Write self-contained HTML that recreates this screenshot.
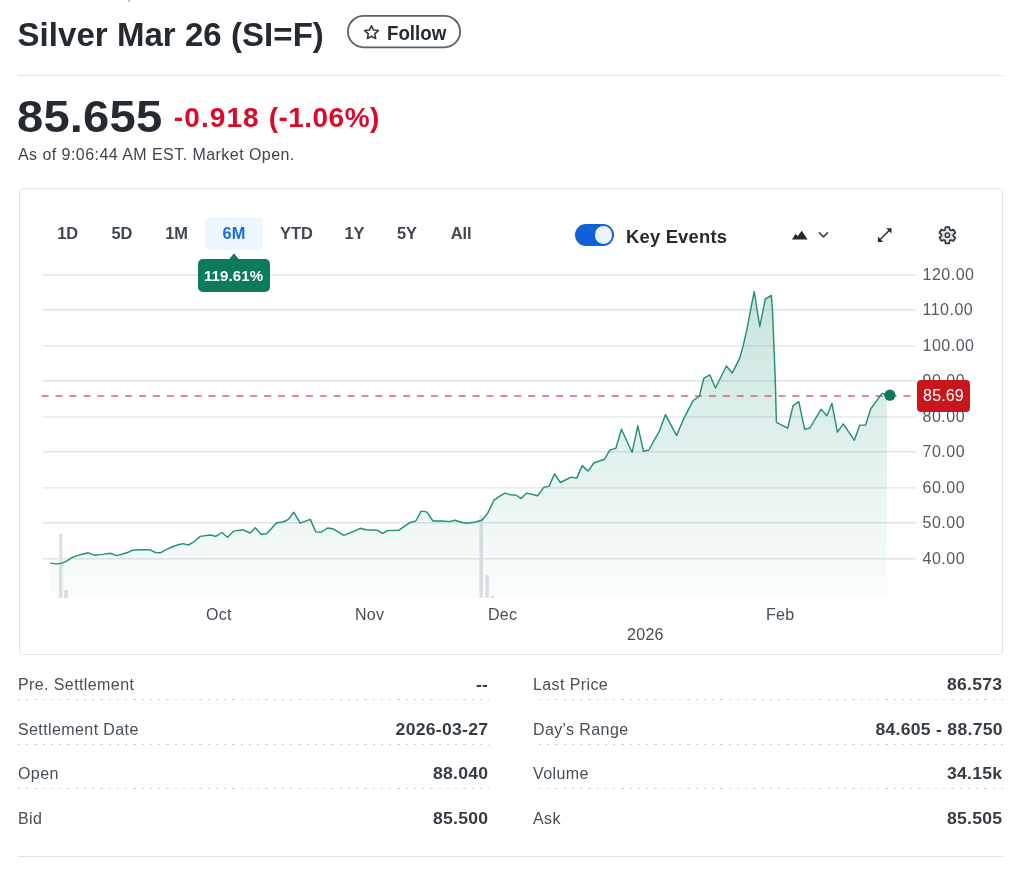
<!DOCTYPE html>
<html><head><meta charset="utf-8">
<style>
*{margin:0;padding:0;box-sizing:border-box}
html,body{width:1024px;height:870px;background:#fff;overflow:hidden}
body{position:relative;font-family:"Liberation Sans",sans-serif;color:#232a31}
.a{position:absolute;white-space:nowrap;line-height:1}
.b{font-weight:bold}
#title{left:17.5px;top:18px;font-size:33px;font-weight:bold;letter-spacing:0.05px}
#follow{left:347px;top:15px;width:114px;height:33px}
#follow span{position:absolute;left:40px;top:8.6px;font-size:19.5px;font-weight:bold;color:#232a31;letter-spacing:0px;transform:scaleX(0.96);transform-origin:0 0}
#hr1{left:18px;top:75px;width:985px;height:1px;background:#e0e4e9}
#price{left:17px;top:95px;font-size:44px;font-weight:bold;letter-spacing:0.2px;transform:scaleX(1.07);transform-origin:0 0}
.red{color:#dc0a28}
#chg{left:173.8px;top:103.5px;font-size:28px;font-weight:bold;letter-spacing:1.1px}
#pct{left:268.8px;top:103.5px;font-size:28px;font-weight:bold;letter-spacing:0.45px}
#asof{left:18px;top:146.8px;font-size:16px;color:#3e454c;letter-spacing:0.45px}
#card{left:18.5px;top:188px;width:984.3px;height:466.6px;border:1px solid #e0e3e7;border-radius:5px}
.rng{top:225px;width:60px;text-align:center;font-size:16.4px;font-weight:bold;color:#40474e;letter-spacing:0px}
#sel{left:205px;top:217px;width:58px;height:33px;background:#eef6ff;border-radius:5px}
#tip{left:198px;top:259px;width:72px;height:33px;background:#0b7a5d;border-radius:5px}
#tip span{position:absolute;left:6px;top:9px;font-size:15px;font-weight:bold;color:#fff;letter-spacing:0.1px}
#tog{left:575px;top:224px;width:39px;height:22px;background:#0f62d6;border-radius:11px}
#tog i{position:absolute;left:19.5px;top:2.3px;width:17.6px;height:17.6px;border-radius:50%;background:#eef2f7}
#ke{left:626px;top:228px;font-size:18.4px;font-weight:bold;letter-spacing:0.2px}
.yl{left:922.5px;font-size:16px;color:#525a62;letter-spacing:0.5px;margin-top:-1px}
.xl{font-size:16px;color:#464e56;letter-spacing:0.3px;margin-top:1px}
#redbox{left:917.1px;top:379.7px;width:52.5px;height:32.8px;background:#c8161d;border-radius:4px}
#redbox span{position:absolute;left:6px;top:8px;font-size:16px;color:#fff;letter-spacing:0.15px}
.lab{font-size:16px;color:#464e56;letter-spacing:0.4px;margin-top:-0.5px}
.val{font-size:16px;font-weight:bold;color:#353c43;letter-spacing:0.25px;margin-top:-0.5px;transform:scaleX(1.1);transform-origin:100% 0}
.dotr{height:1px;background:repeating-linear-gradient(to left,#ccd1d7 0 2.2px,transparent 2.2px 8.25px)}
.dot{height:1px;background:repeating-linear-gradient(to right,#ccd1d7 0 2.2px,transparent 2.2px 8.25px)}
#hr2{left:18px;top:856px;width:985px;height:1px;background:#e0e4e9}
svg{position:absolute;left:0;top:0}
#w{position:absolute;left:0;top:0;width:1024px;height:870px;will-change:transform}
</style></head>
<body><div id="w">
<div class="a" style="left:127.8px;top:-1px;width:2px;height:3px;border-radius:1px;background:#b5b9be"></div>
<div class="a" id="title">Silver Mar 26 (SI=F)</div>
<div class="a" id="follow"><svg width="114" height="34" style="left:0;top:0"><rect x="0.9" y="0.9" width="112.2" height="31.4" rx="15.7" fill="none" stroke="#5a6168" stroke-width="1.8"/></svg><svg width="17" height="17" viewBox="0 0 16 16" style="left:16px;top:8.8px"><path d="M8 1.6l1.9 4.1 4.5.5-3.3 3.1.9 4.4L8 11.5l-3.9 2.2.9-4.4L1.6 6.2l4.5-.5z" fill="none" stroke="#30373e" stroke-width="1.45" stroke-linejoin="round"/></svg><span>Follow</span></div>
<div class="a" id="hr1"></div>
<div class="a" id="price">85.655</div>
<div class="a red" id="chg">-0.918</div>
<div class="a red" id="pct">(-1.06%)</div>
<div class="a" id="asof">As of 9:06:44 AM EST. Market Open.</div>

<div class="a" id="card"></div>
<!-- CHART SVG -->
<svg id="chart" width="1024" height="870">
<defs><linearGradient id="gf" x1="0" y1="0" x2="0" y2="1" gradientUnits="objectBoundingBox">
<stop offset="0" stop-color="#2b9a80" stop-opacity="0.26"/>
<stop offset="1" stop-color="#2b9a80" stop-opacity="0.02"/></linearGradient></defs>
<g stroke="#e2e4e8" stroke-width="1.4"><line x1="43" y1="275.0" x2="916" y2="275.0"/><line x1="43" y1="309.8" x2="916" y2="309.8"/><line x1="43" y1="345.9" x2="916" y2="345.9"/><line x1="43" y1="380.8" x2="916" y2="380.8"/><line x1="43" y1="416.9" x2="916" y2="416.9"/><line x1="43" y1="451.8" x2="916" y2="451.8"/><line x1="43" y1="487.9" x2="916" y2="487.9"/><line x1="43" y1="522.8" x2="916" y2="522.8"/><line x1="43" y1="558.8" x2="916" y2="558.8"/></g>
<g fill="#dde0e4"><rect x="59" y="534" width="3.5" height="64"/><rect x="64.2" y="590" width="3.8" height="8"/><rect x="479.5" y="515" width="3.5" height="83"/><rect x="485.3" y="575" width="3.5" height="23"/><rect x="490.8" y="596" width="3.5" height="2"/></g>
<path d="M50.2 563.1 L57.2 563.9 L61.9 563.1 L66.6 561.1 L72.0 557.5 L77.5 555.6 L83.0 554.0 L88.4 552.8 L94.7 555.3 L102.5 554.4 L110.3 553.3 L116.6 555.6 L122.8 554.0 L127.5 552.5 L133.0 550.2 L140.0 549.7 L149.4 549.7 L155.6 552.5 L160.3 552.8 L166.6 549.4 L172.0 547.0 L177.5 545.0 L183.0 543.6 L188.4 545.0 L193.9 541.8 L200.2 536.4 L210.3 535.0 L215.8 536.4 L222.0 532.5 L227.5 537.2 L233.8 531.1 L243.1 529.8 L250.2 533.0 L255.3 527.8 L261.1 534.2 L266.6 533.8 L276.7 522.8 L283.0 522.0 L288.4 519.4 L293.9 512.3 L300.2 523.1 L310.3 519.4 L315.8 531.9 L321.2 532.2 L327.5 528.0 L333.0 528.8 L343.9 535.3 L352.5 531.9 L360.3 528.3 L365.8 529.8 L377.5 530.3 L382.5 533.4 L387.7 530.6 L398.6 530.3 L409.5 522.8 L415.8 521.0 L421.2 511.1 L426.7 511.9 L433.0 521.0 L442.3 521.0 L449.4 521.6 L454.8 520.2 L460.3 522.0 L466.6 523.3 L475.9 522.0 L482.2 520.0 L487.7 513.1 L493.9 500.3 L499.4 496.3 L504.8 493.1 L510.3 494.7 L515.8 495.0 L521.2 498.6 L526.7 493.1 L537.7 495.8 L543.9 487.2 L549.0 486.4 L554.5 473.9 L560.3 482.5 L571.2 477.2 L576.7 478.1 L582.2 465.6 L588.1 471.1 L593.8 463.0 L604.5 459.3 L609.6 450.4 L615.9 448.1 L621.4 429.3 L632.1 452.3 L637.8 425.8 L643.5 451.3 L648.8 450.0 L659.5 430.8 L665.5 414.6 L676.6 435.6 L683.6 418.8 L693.1 400.7 L699.4 396.0 L703.8 378.3 L709.8 374.8 L715.5 388.0 L726.4 366.0 L732.2 373.1 L739.7 358.2 L743.1 346.1 L747.1 328.3 L750.6 309.9 L754.2 291.5 L759.8 326.6 L765.3 299.0 L771.3 295.5 L772.4 308.7 L775.3 380.0 L776.4 422.3 L787.7 428.1 L793.1 405.7 L798.8 401.6 L804.6 429.2 L809.9 428.0 L821.0 409.3 L826.9 415.7 L831.9 403.4 L837.4 432.1 L843.3 423.9 L854.4 440.3 L859.7 425.1 L865.5 425.1 L870.8 408.7 L882.0 393.4 L887.0 395.0 L887.0 598 L50.2 598 Z" fill="url(#gf)"/>
<line x1="41.7" y1="396" x2="914" y2="396" stroke="#d7646b" stroke-width="1.4" stroke-dasharray="7.05 6.85"/>
<path d="M50.2 563.1 L57.2 563.9 L61.9 563.1 L66.6 561.1 L72.0 557.5 L77.5 555.6 L83.0 554.0 L88.4 552.8 L94.7 555.3 L102.5 554.4 L110.3 553.3 L116.6 555.6 L122.8 554.0 L127.5 552.5 L133.0 550.2 L140.0 549.7 L149.4 549.7 L155.6 552.5 L160.3 552.8 L166.6 549.4 L172.0 547.0 L177.5 545.0 L183.0 543.6 L188.4 545.0 L193.9 541.8 L200.2 536.4 L210.3 535.0 L215.8 536.4 L222.0 532.5 L227.5 537.2 L233.8 531.1 L243.1 529.8 L250.2 533.0 L255.3 527.8 L261.1 534.2 L266.6 533.8 L276.7 522.8 L283.0 522.0 L288.4 519.4 L293.9 512.3 L300.2 523.1 L310.3 519.4 L315.8 531.9 L321.2 532.2 L327.5 528.0 L333.0 528.8 L343.9 535.3 L352.5 531.9 L360.3 528.3 L365.8 529.8 L377.5 530.3 L382.5 533.4 L387.7 530.6 L398.6 530.3 L409.5 522.8 L415.8 521.0 L421.2 511.1 L426.7 511.9 L433.0 521.0 L442.3 521.0 L449.4 521.6 L454.8 520.2 L460.3 522.0 L466.6 523.3 L475.9 522.0 L482.2 520.0 L487.7 513.1 L493.9 500.3 L499.4 496.3 L504.8 493.1 L510.3 494.7 L515.8 495.0 L521.2 498.6 L526.7 493.1 L537.7 495.8 L543.9 487.2 L549.0 486.4 L554.5 473.9 L560.3 482.5 L571.2 477.2 L576.7 478.1 L582.2 465.6 L588.1 471.1 L593.8 463.0 L604.5 459.3 L609.6 450.4 L615.9 448.1 L621.4 429.3 L632.1 452.3 L637.8 425.8 L643.5 451.3 L648.8 450.0 L659.5 430.8 L665.5 414.6 L676.6 435.6 L683.6 418.8 L693.1 400.7 L699.4 396.0 L703.8 378.3 L709.8 374.8 L715.5 388.0 L726.4 366.0 L732.2 373.1 L739.7 358.2 L743.1 346.1 L747.1 328.3 L750.6 309.9 L754.2 291.5 L759.8 326.6 L765.3 299.0 L771.3 295.5 L772.4 308.7 L775.3 380.0 L776.4 422.3 L787.7 428.1 L793.1 405.7 L798.8 401.6 L804.6 429.2 L809.9 428.0 L821.0 409.3 L826.9 415.7 L831.9 403.4 L837.4 432.1 L843.3 423.9 L854.4 440.3 L859.7 425.1 L865.5 425.1 L870.8 408.7 L882.0 393.4 L887.0 395.0" fill="none" stroke="#22907a" stroke-width="1.45" stroke-linejoin="round"/>
<circle cx="889.9" cy="395.2" r="5.6" fill="#0b7a5d"/>
<g fill="#232a31"><path d="M792 239.5 L795.7 233.8 L797.6 236.3 L801.8 230.8 L807.6 239.5Z"/></g>
<path d="M819.4 232.9 L823.4 236.9 L827.4 232.9" fill="none" stroke="#464e56" stroke-width="1.8" stroke-linecap="round" stroke-linejoin="round"/>
<g fill="#232a31"><line x1="880.2" y1="239.6" x2="889.2" y2="230.6" stroke="#232a31" stroke-width="1.4"/>
<path d="M891.5 228.3 L886.2 228.3 L891.5 233.6Z"/><path d="M877.9 241.9 L877.9 236.6 L883.2 241.9Z"/></g>
<path d="M945.00 229.81 L945.53 227.11 L949.27 227.11 L949.80 229.81 L950.87 230.43 L953.47 229.54 L955.34 232.77 L953.27 234.58 L953.27 235.82 L955.34 237.63 L953.47 240.86 L950.87 239.97 L949.80 240.59 L949.27 243.29 L945.53 243.29 L945.00 240.59 L943.93 239.97 L941.33 240.86 L939.46 237.63 L941.53 235.82 L941.53 234.58 L939.46 232.77 L941.33 229.54 L943.93 230.43Z" fill="#dfe2e5" stroke="#30373e" stroke-width="1.7" stroke-linejoin="round"/><circle cx="947.4" cy="235.2" r="2.1" fill="#fff" stroke="#30373e" stroke-width="1.5"/>
</svg>
<div class="a" id="sel"></div>
<div class="a rng" style="left:37.70px">1D</div>
<div class="a rng" style="left:91.90px">5D</div>
<div class="a rng" style="left:146.65px">1M</div>
<div class="a rng" style="left:204.00px;color:#1f6ad8">6M</div>
<div class="a rng" style="left:266.40px">YTD</div>
<div class="a rng" style="left:324.50px">1Y</div>
<div class="a rng" style="left:377.00px">5Y</div>
<div class="a rng" style="left:431.20px">All</div>
<div class="a" id="tip"><span>119.61%</span></div>
<svg width="12" height="8" style="left:228px;top:252px"><path d="M1 7.5L6 1.2 11 7.5z" fill="#0b7a5d"/></svg>
<div class="a" id="tog"><i></i></div>
<div class="a" id="ke">Key Events</div>


<div class="a yl" style="top:268px">120.00</div>
<div class="a yl" style="top:303px">110.00</div>
<div class="a yl" style="top:339px">100.00</div>
<div class="a yl" style="top:374px">90.00</div>
<div class="a yl" style="top:410px">80.00</div>
<div class="a yl" style="top:445px">70.00</div>
<div class="a yl" style="top:481px">60.00</div>
<div class="a yl" style="top:516px">50.00</div>
<div class="a yl" style="top:552px">40.00</div>
<div class="a" id="redbox"><span>85.69</span></div>

<div class="a xl" style="left:206px;top:606px">Oct</div>
<div class="a xl" style="left:355px;top:606px">Nov</div>
<div class="a xl" style="left:488px;top:606px">Dec</div>
<div class="a xl" style="left:766px;top:606px">Feb</div>
<div class="a xl" style="left:627px;top:626px">2026</div>

<!-- stats -->
<div class="a lab" style="left:18px;top:677px">Pre. Settlement</div>
<div class="a val" style="right:536px;top:677px">--</div>
<div class="a dot" style="left:18px;top:699px;width:471px"></div>
<div class="a lab" style="left:18px;top:722px">Settlement Date</div>
<div class="a val" style="right:536px;top:722px">2026-03-27</div>
<div class="a dot" style="left:18px;top:744px;width:471px"></div>
<div class="a lab" style="left:18px;top:766px">Open</div>
<div class="a val" style="right:536px;top:766px">88.040</div>
<div class="a dot" style="left:18px;top:788px;width:471px"></div>
<div class="a lab" style="left:18px;top:811px">Bid</div>
<div class="a val" style="right:536px;top:811px">85.500</div>

<div class="a lab" style="left:533px;top:677px">Last Price</div>
<div class="a val" style="right:21.5px;top:677px">86.573</div>
<div class="a dotr" style="left:533px;top:699px;width:470px"></div>
<div class="a lab" style="left:533px;top:722px">Day's Range</div>
<div class="a val" style="right:21.5px;top:722px">84.605 - 88.750</div>
<div class="a dotr" style="left:533px;top:744px;width:470px"></div>
<div class="a lab" style="left:533px;top:766px">Volume</div>
<div class="a val" style="right:21.5px;top:766px">34.15k</div>
<div class="a dotr" style="left:533px;top:788px;width:470px"></div>
<div class="a lab" style="left:533px;top:811px">Ask</div>
<div class="a val" style="right:21.5px;top:811px">85.505</div>
<div class="a" id="hr2"></div>
</div></body></html>
